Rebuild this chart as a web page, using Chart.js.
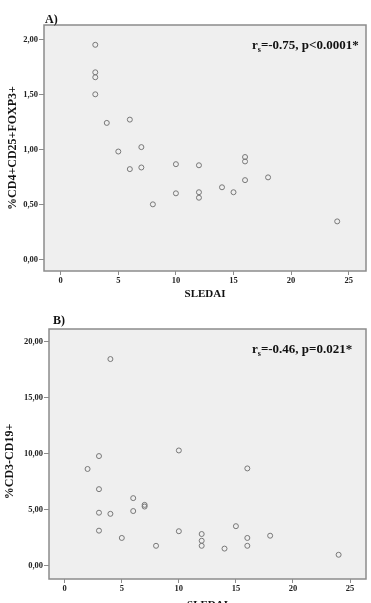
<!DOCTYPE html>
<html>
<head>
<meta charset="utf-8">
<script src="https://cdn.jsdelivr.net/npm/chart.js@4/dist/chart.umd.min.js"></script>
<style>
  html, body { margin: 0; padding: 0; background: #fff; overflow: hidden; }
  #wrap { position: relative; width: 371px; height: 603px; overflow: hidden; }
  canvas { position: absolute; left: 0; }
  #chartA { top: 0; width: 371px; height: 300px; }
  #chartB { top: 300px; width: 371px; height: 311px; }
</style>
</head>
<body>
<div id="wrap">
  <canvas id="chartA" width="371" height="300"></canvas>
  <canvas id="chartB" width="371" height="311"></canvas>
</div>
<script>
// panel A: SLEDAI vs %CD4+CD25+FOXP3+
const sledaiA = [3, 3, 3, 3, 4, 6, 7, 5, 6, 7, 10, 12, 16, 16, 16, 18, 10, 12, 12, 14, 15, 8, 24];
const tregA = [1.95, 1.70, 1.655, 1.50, 1.24, 1.27, 1.02, 0.98, 0.82, 0.835, 0.865, 0.855, 0.93, 0.89, 0.72, 0.745, 0.60, 0.61, 0.56, 0.655, 0.61, 0.50, 0.345];

// panel B: SLEDAI vs %CD3-CD19+
const sledaiB = [4, 3, 2, 10, 16, 3, 6, 7, 7, 6, 3, 4, 3, 5, 10, 12, 12, 12, 8, 14, 15, 16, 16, 18, 24];
const bcellB = [18.45, 9.8, 8.65, 10.3, 8.7, 6.85, 6.05, 5.45, 5.3, 4.9, 4.75, 4.65, 3.15, 2.5, 3.1, 2.85, 2.25, 1.8, 1.8, 1.55, 3.55, 2.5, 1.8, 2.7, 1.0];

const xTickValues = [0, 5, 10, 15, 20, 25];
const yTickValuesA = [0, 0.5, 1, 1.5, 2];
const yTickValuesB = [0, 5, 10, 15, 20];

const serif = '"Liberation Serif", "Times New Roman", serif';
const tickFont = { family: serif, size: 8.5, weight: 'bold' };
const axisGray = '#8c8c8c';

const panelPlugin = {
  id: 'panel',
  beforeDraw(chart, args, opts) {
    const { ctx, chartArea: a } = chart;
    ctx.save();
    ctx.fillStyle = '#efefef';
    ctx.fillRect(a.left, a.top, a.right - a.left, a.bottom - a.top);
    ctx.restore();
  },
  afterDraw(chart, args, opts) {
    const { ctx, chartArea: a } = chart;
    ctx.save();
    ctx.strokeStyle = axisGray;
    ctx.lineWidth = 1.5;
    ctx.strokeRect(a.left, a.top, a.right - a.left, a.bottom - a.top);

    ctx.fillStyle = '#111';
    ctx.textBaseline = 'alphabetic';
    ctx.font = 'bold 12px ' + serif;
    ctx.fillText(opts.letter, opts.letterX, opts.letterY);

    // r with subscript s, then the rest
    let x = opts.statX;
    ctx.font = 'bold 13px ' + serif;
    ctx.fillText('r', x, opts.statY);
    x += ctx.measureText('r').width;
    ctx.font = 'bold 8px ' + serif;
    ctx.fillText('s', x, opts.statY + 3);
    x += ctx.measureText('s').width;
    ctx.font = 'bold 13px ' + serif;
    ctx.fillText(opts.stat, x, opts.statY);
    ctx.restore();
  }
};

function xScale(min, max, height) {
  return {
    type: 'linear',
    position: 'bottom',
    min: min,
    max: max,
    afterBuildTicks: s => { s.ticks = xTickValues.map(v => ({ value: v })); },
    afterFit: s => { s.height = height; },
    grid: { drawOnChartArea: false, drawTicks: true, tickLength: 4, color: axisGray, lineWidth: 1 },
    border: { display: false },
    ticks: { color: '#222', font: tickFont, padding: 1, maxRotation: 0, autoSkip: false, callback: v => String(v) },
    title: { display: true, text: 'SLEDAI', color: '#111', font: { family: serif, size: 11, weight: 'bold', lineHeight: 1 }, padding: 0 }
  };
}

function yScale(min, max, ticks, width, label, titlePad) {
  return {
    type: 'linear',
    min: min,
    max: max,
    afterBuildTicks: s => { s.ticks = ticks.map(v => ({ value: v })); },
    afterFit: s => { s.width = width; },
    grid: { drawOnChartArea: false, drawTicks: true, tickLength: 5, color: axisGray, lineWidth: 1 },
    border: { display: false },
    ticks: { color: '#222', font: tickFont, padding: 1, autoSkip: false, callback: v => v.toFixed(2).replace('.', ',') },
    title: { display: true, text: label, color: '#111', font: { family: serif, size: 12, weight: 'bold', lineHeight: 1 }, padding: { top: titlePad, bottom: 0 } }
  };
}

function points(xs, ys) {
  return xs.map((x, i) => ({ x: x, y: ys[i] }));
}

const dotStyle = {
  pointRadius: 2.5,
  pointBorderWidth: 1,
  pointBorderColor: '#787878',
  pointBackgroundColor: 'rgba(0,0,0,0)',
  showLine: false
};

const configA = {
  type: 'scatter',
  data: { datasets: [Object.assign({ label: 'A', data: points(sledaiA, tregA) }, dotStyle)] },
  options: {
    responsive: false,
    animation: false,
    layout: { padding: { top: 25, right: 5, left: 0, bottom: 0 } },
    scales: {
      x: xScale(-1.45, 26.5, 29),
      y: yScale(-0.106, 2.13, yTickValuesA, 44, '%CD4+CD25+FOXP3+', 7)
    },
    plugins: {
      legend: { display: false },
      tooltip: { enabled: false },
      panel: { letter: 'A)', letterX: 45, letterY: 22.5, stat: '=-0.75, p<0.0001*', statX: 252, statY: 48.5 }
    }
  },
  plugins: [panelPlugin]
};

const configB = {
  type: 'scatter',
  data: { datasets: [Object.assign({ label: 'B', data: points(sledaiB, bcellB) }, dotStyle)] },
  options: {
    responsive: false,
    animation: false,
    layout: { padding: { top: 29, right: 5, left: 0, bottom: 0 } },
    scales: {
      x: xScale(-1.38, 26.4, 32),
      y: yScale(-1.16, 21.13, yTickValuesB, 49, '%CD3-CD19+     ', 4)
    },
    plugins: {
      legend: { display: false },
      tooltip: { enabled: false },
      panel: { letter: 'B)', letterX: 53, letterY: 24, stat: '=-0.46, p=0.021*', statX: 252, statY: 53 }
    }
  },
  plugins: [panelPlugin]
};

const chartA = new Chart(document.getElementById('chartA'), configA);
const chartB = new Chart(document.getElementById('chartB'), configB);
</script>
</body>
</html>
